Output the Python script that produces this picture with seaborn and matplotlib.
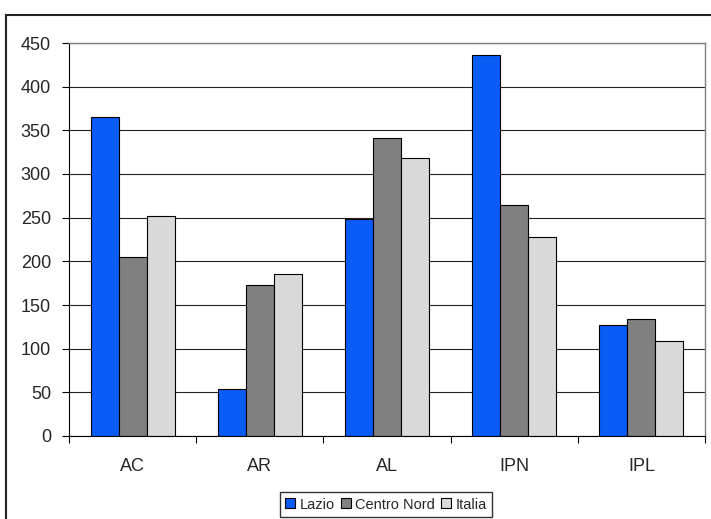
import numpy as np
import pandas as pd
import matplotlib
matplotlib.use("Agg")
import matplotlib.pyplot as plt
import seaborn as sns
from matplotlib.patches import Rectangle, Patch
from matplotlib.ticker import FixedLocator, MultipleLocator

categories = ["AC", "AR", "AL", "IPN", "IPL"]
series_names = ["Lazio", "Centro Nord", "Italia"]
lazio = [365, 54, 249, 436, 127]
centro_nord = [205, 173, 341, 264, 134]
italia = [252, 185, 318, 228, 109]
colors = ["#0A5CF7", "#808080", "#D9D9D9"]

df = pd.DataFrame({
    "cat": categories * 3,
    "serie": [s for s in series_names for _ in categories],
    "val": lazio + centro_nord + italia,
})

sns.set_style("white")
plt.rcParams["font.family"] = ["Liberation Sans", "DejaVu Sans"]

fig = plt.figure(figsize=(7.11, 5.19), dpi=100)
ax = fig.add_axes([69 / 711, 1 - 436 / 519, 636 / 711, 393 / 519])

sns.barplot(data=df, x="cat", y="val", hue="serie", order=categories,
            hue_order=series_names, palette=colors, width=0.66, gap=0,
            edgecolor="black", linewidth=0.8, saturation=1, ax=ax, legend=False)

ax.set_ylim(0, 450)
ax.set_xlim(-0.5, len(categories) - 0.5)
ax.yaxis.set_major_locator(MultipleLocator(50))
ax.yaxis.grid(True, color="#222222", linewidth=0.8)
ax.set_axisbelow(True)
ax.set_xlabel("")
ax.set_ylabel("")

# x ticks between the categories, labels in the middle
ax.xaxis.set_major_locator(FixedLocator(np.arange(-0.5, len(categories), 1.0)))
ax.xaxis.set_minor_locator(FixedLocator(np.arange(len(categories))))
ax.set_xticklabels([], minor=False)
ax.set_xticklabels(categories, minor=True)
ax.tick_params(axis="x", which="major", length=5, width=0.8, color="black", direction="out", bottom=True)
ax.tick_params(axis="x", which="minor", length=0, labelsize=13, pad=16)
ax.tick_params(axis="y", length=5, width=0.8, color="black", direction="out", left=True,
               labelsize=13, pad=8)

for side in ["left", "bottom"]:
    ax.spines[side].set_color("black")
    ax.spines[side].set_linewidth(0.8)
for side in ["top", "right"]:
    ax.spines[side].set_color("#808080")
    ax.spines[side].set_linewidth(1.0)

handles = [Patch(facecolor=c, edgecolor="black", linewidth=0.8) for c in colors]
fig.legend(handles, series_names, loc="upper center", bbox_to_anchor=(386 / 711, 1 - 492 / 519),
           ncol=3, fontsize=10.5, frameon=True, fancybox=False, edgecolor="black",
           handlelength=0.68, handleheight=0.68, handletextpad=0.28, columnspacing=0.45,
           borderpad=0.38, borderaxespad=0)

fig.patches.append(Rectangle((6 / 711, -0.02), 1.0, 1 - 15 / 519 + 0.02,
                             transform=fig.transFigure, fill=False,
                             edgecolor="#222222", linewidth=1.5))

fig.savefig("out.png", dpi=100)
